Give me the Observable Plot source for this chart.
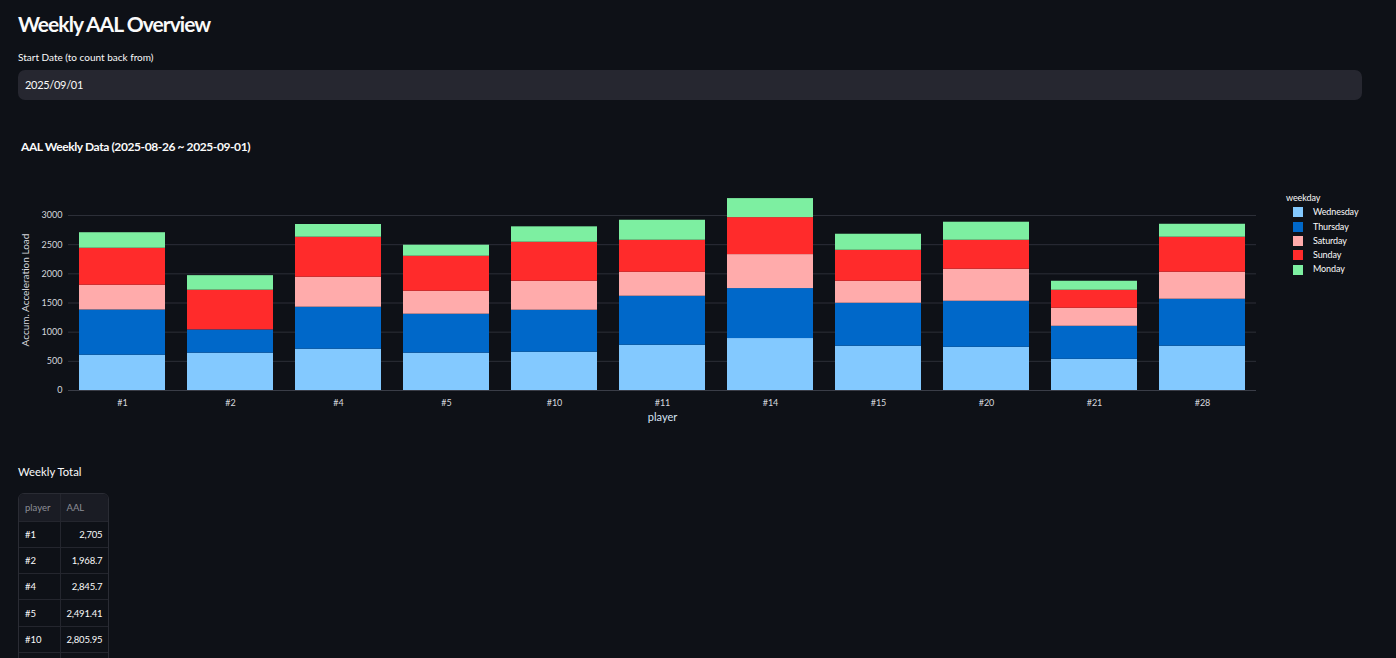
<!DOCTYPE html>
<html>
<head>
<meta charset="utf-8">
<script src="https://cdn.jsdelivr.net/npm/d3@7"></script>
<script src="https://cdn.jsdelivr.net/npm/@observablehq/plot@0.6"></script>
<style>
  html, body { margin: 0; padding: 0; background: #0e1117; overflow: hidden; }
  body { width: 1396px; height: 658px; position: relative; font-family: Lato, "Noto Sans", sans-serif; color: #fafafa; }
  .abs { position: absolute; }
  #title { left: 18px; top: 9px; font-size: 21px; letter-spacing: -0.95px; font-weight: 700; margin: 0; line-height: 30px; }
  #dateLabel { left: 18px; top: 50px; font-size: 10px; line-height: 14px; }
  #dateBox { left: 18px; top: 70px; width: 1344px; height: 30px; background: #262730; border-radius: 7px; }
  #dateBox span { position: absolute; left: 7px; top: 0; line-height: 30px; font-size: 11px; letter-spacing: -0.3px; }
  #chartTitle { left: 21px; top: 139px; font-size: 12px; letter-spacing: -0.4px; font-weight: 700; line-height: 16px; }
  #chart { left: 0; top: 170px; }
  #legend { left: 1286px; top: 191px; font-size: 9px; line-height: 14.3px; letter-spacing: -0.1px; }
  #legend .item { display: flex; align-items: center; }
  #legend .sw { width: 10px; height: 10px; margin-left: 7px; margin-right: 10px; }
  #totalTitle { left: 18px; top: 464px; font-size: 11.3px; line-height: 16px; }
  #tbl { left: 18px; top: 493px; border: 1px solid #2a2c34; border-radius: 6px; overflow: hidden; }
  table { border-collapse: collapse; font-size: 9.5px; }
  th, td { border-right: 1px solid #24262e; border-bottom: 1px solid #24262e; padding: 0 6px; box-sizing: border-box; }
  th:last-child, td:last-child { border-right: none; }
  th { height: 27px; font-weight: 400; color: #8d8f97; background: #1a1c24; text-align: left; }
  td { height: 26.3px; color: #fafafa; }
  td.p { width: 41px; }
  td.v { width: 48px; text-align: right; letter-spacing: -0.2px; }
</style>
</head>
<body>
<h1 id="title" class="abs">Weekly AAL Overview</h1>
<div id="dateLabel" class="abs">Start Date (to count back from)</div>
<div id="dateBox" class="abs"><span>2025/09/01</span></div>
<div id="chartTitle" class="abs">AAL Weekly Data (2025-08-26 ~ 2025-09-01)</div>
<div id="chart" class="abs"></div>
<div id="legend" class="abs"></div>
<div id="totalTitle" class="abs">Weekly Total</div>
<div id="tbl" class="abs"></div>
<script>
const players = ["#1","#2","#4","#5","#10","#11","#14","#15","#20","#21","#28"];
const weekdays = ["Wednesday","Thursday","Saturday","Sunday","Monday"];
const colors = ["#83c9ff","#0068c9","#ffabab","#ff2b2b","#7defa1"];
const wednesday = [605,640,708,640,656,776,891,759,741,535,759];
const thursday  = [775,399,720,668,720,840,856,737,789,566,806];
const saturday  = [425,0,514,394,497,411,583,377,549,309,463];
const sunday    = [634,681,686,600,669,549,634,531,497,309,600];
const monday    = [266,249,218,189,264,343,326,275,309,154,222];
const totals    = [2705,1968.7,2845.7,2491.41,2805.95,2919,3290,2679,2885,1873,2850];
const yTicks = [0,500,1000,1500,2000,2500,3000];

const series = [wednesday, thursday, saturday, sunday, monday];
const rows = [];
weekdays.forEach((w, i) => players.forEach((p, j) => {
  if (series[i][j] > 0) rows.push({player: p, weekday: w, value: series[i][j]});
}));

const textColor = "#d6d8de";
const chart = Plot.plot({
  width: 1260,
  height: 260,
  marginLeft: 68,
  marginRight: 4,
  marginTop: 19,
  marginBottom: 40,
  style: {background: "transparent", color: textColor, fontFamily: "Lato, 'Noto Sans', sans-serif", fontSize: "9px"},
  x: {domain: players, paddingInner: 0.2, paddingOuter: 0.1, label: null},
  y: {domain: [0, 3446], label: null},
  color: {domain: weekdays, range: colors},
  marks: [
    Plot.gridY(yTicks, {stroke: "#2c2f38", strokeOpacity: 1, strokeWidth: 1}),
    Plot.barY(rows, {x: "player", y: "value", fill: "weekday", inset: 0}),
    Plot.ruleY([0], {stroke: "#3a3d47", strokeWidth: 1}),
    Plot.axisY(yTicks, {tickSize: 0, tickPadding: 6, label: null, fontSize: 9, tickFormat: d => String(d)}),
    Plot.axisX({tickSize: 0, tickPadding: 9, label: null, fontSize: 9}),
    Plot.text(["player"], {frameAnchor: "bottom", dy: 30, fill: "#d6e4f5", fontSize: 11}),
    Plot.text(["Accum. Acceleration Load"], {frameAnchor: "left", textAnchor: "middle", dx: -43, rotate: -90, fill: textColor, fontSize: 10})
  ]
});
document.getElementById("chart").appendChild(chart);

const legend = document.getElementById("legend");
legend.innerHTML = `<div>weekday</div>` + weekdays.map((w, i) =>
  `<div class="item"><span class="sw" style="background:${colors[i]}"></span><span>${w}</span></div>`).join("");

const fmt = d3.format(",");
let html = `<table><thead><tr><th>player</th><th>AAL</th></tr></thead><tbody>`;
players.forEach((p, i) => {
  html += `<tr><td class="p">${p}</td><td class="v">${fmt(totals[i])}</td></tr>`;
});
html += `</tbody></table>`;
document.getElementById("tbl").innerHTML = html;
</script>
</body>
</html>
